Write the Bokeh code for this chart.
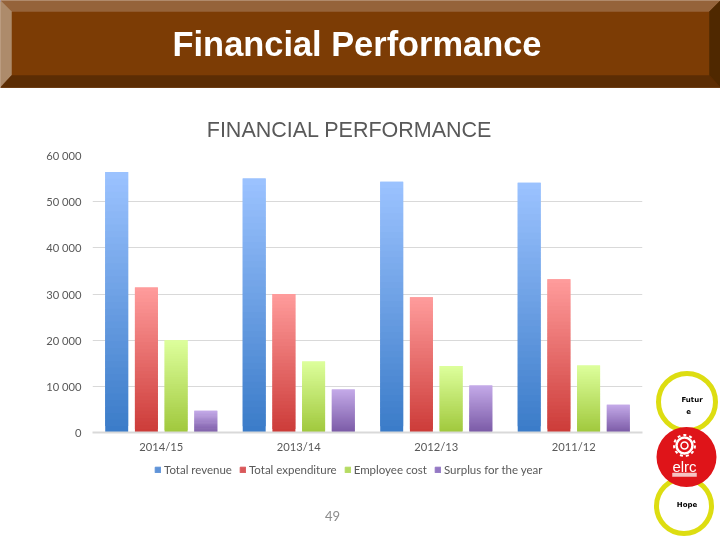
import numpy as np
from bokeh.plotting import figure
from bokeh.embed import file_html
from bokeh.resources import INLINE
from bokeh.models import (FactorRange, Range1d, Legend, LegendItem, Label,
                          ColumnDataSource, InlineStyleSheet, FixedTicker)
from bokeh.transform import dodge

years = ["2014/15", "2013/14", "2012/13", "2011/12"]
total_revenue = [56400, 55000, 54300, 54100]
total_expenditure = [31400, 30000, 29300, 33200]
employee_cost = [20000, 15400, 14400, 14500]
surplus = [4700, 9300, 10200, 6000]
y_ticks = [0, 10000, 20000, 30000, 40000, 50000, 60000]
y_labels = ["0", "10 000", "20 000", "30 000", "40 000", "50 000", "60 000"]
series_names = ["Total revenue", "Total expenditure", "Employee cost", "Surplus for the year"]
top_colors = ["#9CC3FF", "#FF9C9C", "#DDFF9C", "#C4AAE8"]
bottom_colors = ["#3A7BC8", "#CC3B38", "#A0C83C", "#7A5AA6"]
legend_colors = ["#5F93D8", "#D9585A", "#B5DB62", "#9478C4"]
offsets = [-0.324, -0.108, 0.108, 0.324]
BANDS = 40

W, H = 720, 540
L, R, T, B = 92, 642, 155, 432
fixed = ":host{position:fixed;left:0;top:0}"

# ---------- page backdrop: header, emblem, texts, legend ----------
bg = figure(width=W, height=H, x_range=Range1d(0, W), y_range=Range1d(H, 0),
            output_backend="svg", toolbar_location=None, x_axis_type=None, y_axis_type=None,
            min_border=0)
bg.stylesheets = [InlineStyleSheet(css=fixed)]
bg.outline_line_color = None
bg.grid.visible = False


def poly(xs, ys, fill):
    bg.patch(xs, ys, fill_color=fill, line_color=fill, line_width=0.5)


def label(x, y, text, size, color, font="Liberation Sans", style="normal"):
    bg.add_layout(Label(x=x, y=y, text=text, text_font=font, text_font_size=size,
                        text_color=color, text_font_style=style, text_align="center",
                        text_baseline="middle"))


hb, ib = 87, 75
il, ir, it = 11, 709, 11
poly([0, W, W, 0], [0, 0, hb, hb], "#7C3C05")
poly([0, W, ir, il], [0, 0, it, it], "#95633A")
poly([0, il, il, 0], [0, it, ib, hb], "#AD8B6B")
poly([W, ir, ir, W], [0, it, ib, hb], "#4F2800")
poly([0, il, ir, W], [hb, ib, ib, hb], "#5C2D04")
label(356.5, 43.5, "Financial Performance", "34.4px", "#FFFFFF", style="bold")
label(349, 129, "FINANCIAL PERFORMANCE", "21.5px", "#595959")
label(332, 515, "49", "13px", "#8C8C8C", font="Lato")

bg.circle([686.5], [401.5], radius=28.5, fill_color="#FFFFFF", line_color="#DDDD11", line_width=5)
bg.circle([683.5], [505.5], radius=27.5, fill_color="#FFFFFF", line_color="#DDDD11", line_width=5)
label(691.5, 399, "Futur", "7px", "#000000", font="DejaVu Sans", style="bold")
label(688, 410, "e", "7px", "#000000", font="DejaVu Sans", style="bold")
label(686.5, 504, "Hope", "7px", "#000000", font="DejaVu Sans", style="bold")
bg.circle([686], [456.5], radius=30, fill_color="#DF1419", line_color=None)
teeth = bg.circle([684], [445], radius=10.5, fill_color=None, line_color="#FFFFFF", line_width=2)
teeth.glyph.line_dash = [3, 3]
bg.circle([684], [445], radius=8, fill_color=None, line_color="#FFFFFF", line_width=2.5)
bg.circle([684], [445], radius=3.5, fill_color=None, line_color="#FFFFFF", line_width=1.5)
label(684, 465.5, "elrc", "15px", "#FFFFFF")
poly([672, 696, 696, 672], [472.5, 472.5, 476, 476], "#F5C4C4")

items = []
for name, col in zip(series_names, legend_colors):
    r = bg.vbar(x=[-50], width=1, bottom=[0], top=[1], fill_color=col, line_color=col)
    items.append(LegendItem(label=name, renderers=[r]))
leg = Legend(items=items, orientation="horizontal", location=(154, 540 - 476),
             background_fill_alpha=0, border_line_color=None,
             glyph_width=7, glyph_height=7, label_text_font="Lato", label_text_font_size="11.5px",
             label_text_color="#595959", spacing=7, label_standoff=3, padding=0, margin=0,
             label_height=12)
bg.add_layout(leg, "center")

# ---------- chart ----------
p = figure(width=W, height=H, x_range=FactorRange(factors=years, range_padding=0),
           y_range=Range1d(0, 60000), output_backend="svg", toolbar_location=None,
           min_border_left=L, min_border_right=W - R, min_border_top=T, min_border_bottom=H - B)
p.stylesheets = [InlineStyleSheet(css=fixed)]
p.background_fill_alpha = 0
p.border_fill_alpha = 0
p.outline_line_color = None
p.xgrid.grid_line_color = None
p.ygrid.grid_line_color = "#D9D9D9"
p.ygrid.grid_line_width = 1
p.yaxis.ticker = FixedTicker(ticks=y_ticks)
p.yaxis.major_label_overrides = dict(zip(y_ticks, y_labels))
p.yaxis.axis_line_color = None
p.yaxis.major_tick_line_color = None
p.yaxis.minor_tick_line_color = None
p.yaxis.major_label_standoff = 5
p.xaxis.axis_line_color = "#D9D9D9"
p.xaxis.axis_line_width = 2
p.xaxis.major_tick_line_color = None
p.xaxis.minor_tick_line_color = None
p.xaxis.major_label_standoff = 1
for ax in (p.xaxis, p.yaxis):
    ax.major_label_text_font = "Lato"
    ax.major_label_text_font_size = "11.2px"
    ax.major_label_text_color = "#595959"


def hex_rgb(c):
    return np.array([int(c[i:i + 2], 16) for i in (1, 3, 5)], float)


vals = [total_revenue, total_expenditure, employee_cost, surplus]
for name, v, off, ct, cb in zip(series_names, vals, offsets, top_colors, bottom_colors):
    a, b = hex_rgb(ct), hex_rgb(cb)
    cats, bot, top, col = [], [], [], []
    for cat, val in zip(years, v):
        for k in range(BANDS):
            c = b + (a - b) * (k + 0.5) / BANDS
            cats.append(cat)
            bot.append(val * k / BANDS)
            top.append(val * min(k + 2, BANDS) / BANDS)
            col.append("#%02x%02x%02x" % tuple(int(round(x)) for x in c))
    src = ColumnDataSource(dict(cat=cats, bottom=bot, top=top, color=col))
    p.vbar(x=dodge("cat", off, range=p.x_range), width=0.167, bottom="bottom", top="top",
           fill_color="color", line_color=None, source=src)

open("out.html", "w").write(file_html([bg, p], INLINE))
